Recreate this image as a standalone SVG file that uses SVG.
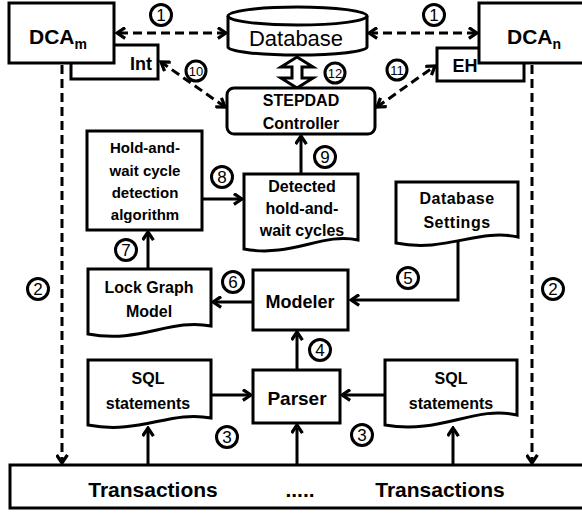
<svg xmlns="http://www.w3.org/2000/svg" width="582" height="514" viewBox="0 0 582 514">
<defs>
<style>
.box{fill:#fff;stroke:#000;stroke-width:3}
.ln{fill:none;stroke:#000;stroke-width:3}
.dash{fill:none;stroke:#000;stroke-width:3;stroke-dasharray:9,5}
.t{font-family:"Liberation Sans",Arial,sans-serif;font-weight:bold;fill:#000;text-anchor:middle}
.num{font-family:"Liberation Sans",Arial,sans-serif;fill:#000;text-anchor:middle;font-size:17px}
.sn{font-size:13px}
.c{fill:#fff;stroke:#000;stroke-width:3}
</style>
<marker id="ah" viewBox="0 0 12 12" markerWidth="13" markerHeight="13" refX="10" refY="6" orient="auto-start-reverse" markerUnits="userSpaceOnUse">
<path d="M2.5,1 L10,6 L2.5,11" fill="none" stroke="#000" stroke-width="3"/>
</marker>
</defs>
<rect width="582" height="514" fill="#fff"/>

<g id="connectors">
<line class="dash" x1="226" y1="33" x2="117" y2="33" marker-start="url(#ah)" marker-end="url(#ah)"/>
<line class="dash" x1="369" y1="33" x2="477" y2="33" marker-start="url(#ah)" marker-end="url(#ah)"/>
<line class="dash" x1="225" y1="107" x2="161" y2="62" marker-start="url(#ah)" marker-end="url(#ah)"/>
<line class="dash" x1="377" y1="107" x2="435" y2="66" marker-start="url(#ah)" marker-end="url(#ah)"/>
<line class="dash" x1="62" y1="65" x2="62" y2="463" marker-end="url(#ah)"/>
<line class="dash" x1="532" y1="65" x2="532" y2="463" marker-end="url(#ah)"/>
<line class="ln" x1="301" y1="174" x2="301" y2="136" marker-end="url(#ah)"/>
<line class="ln" x1="202" y1="199" x2="242" y2="199" marker-end="url(#ah)"/>
<line class="ln" x1="148" y1="269" x2="148" y2="232" marker-end="url(#ah)"/>
<line class="ln" x1="253" y1="302" x2="213" y2="302" marker-end="url(#ah)"/>
<polyline class="ln" points="458,240 458,300 351,300" marker-end="url(#ah)"/>
<line class="ln" x1="297" y1="370" x2="297" y2="332" marker-end="url(#ah)"/>
<line class="ln" x1="211" y1="395" x2="251" y2="395" marker-end="url(#ah)"/>
<line class="ln" x1="385" y1="395" x2="342" y2="395" marker-end="url(#ah)"/>
<line class="ln" x1="148" y1="465" x2="148" y2="428" marker-end="url(#ah)"/>
<line class="ln" x1="297" y1="465" x2="297" y2="425" marker-end="url(#ah)"/>
<line class="ln" x1="453" y1="465" x2="453" y2="428" marker-end="url(#ah)"/>
<polygon points="297,57 313,67 302,67 302,78 313,78 297,88 281,78 292,78 292,67 281,67" fill="#fff" stroke="#000" stroke-width="3" stroke-linejoin="miter"/>
</g>

<g id="int"><rect class="box" x="71" y="45" width="87" height="34"/><text class="t" x="141" y="70" font-size="18">Int</text></g>
<g id="dcam"><rect class="box" x="9" y="3" width="105" height="60"/><text class="t" x="58" y="44" font-size="21">DCA<tspan font-size="14" dy="5">m</tspan></text></g>
<g id="eh"><rect class="box" x="437" y="48" width="87" height="33"/><text class="t" x="465" y="72" font-size="18">EH</text></g>
<g id="dcan"><rect class="box" x="479" y="3" width="120" height="60"/><text class="t" x="534" y="44" font-size="21">DCA<tspan font-size="14" dy="5">n</tspan></text></g>

<g id="database">
<path class="box" d="M228,16 A69.5,9 0 0 1 367,16 V47 A69.5,8 0 0 1 228,47 Z"/>
<path class="ln" d="M228,16 A69.5,9 0 0 0 367,16"/>
<text x="296" y="46" font-family="Liberation Sans,Arial,sans-serif" font-size="22" text-anchor="middle">Database</text>
</g>

<g id="controller"><rect class="box" x="227" y="88" width="148" height="46" rx="7"/>
<text class="t" x="301" y="106" font-size="16">STEPDAD</text><text class="t" x="301" y="129" font-size="16">Controller</text></g>

<g id="hold"><rect class="box" x="87" y="131" width="115" height="99"/>
<text class="t" x="145" y="153" font-size="15">Hold-and-</text>
<text class="t" x="145" y="176" font-size="15">wait cycle</text>
<text class="t" x="145" y="198" font-size="15">detection</text>
<text class="t" x="145" y="220" font-size="15">algorithm</text></g>

<g id="detected"><path class="box" d="M244,174 H358 V240 C322,232 292,258 244,249 Z"/>
<text class="t" x="302" y="192" font-size="16">Detected</text>
<text class="t" x="302" y="214" font-size="16">hold-and-</text>
<text class="t" x="302" y="236" font-size="16">wait cycles</text></g>

<g id="settings"><path class="box" d="M396,182 H518 V237 C478,228 446,253 396,243 Z"/>
<text class="t" x="457" y="204" font-size="16" letter-spacing="0.5">Database</text>
<text class="t" x="457" y="228" font-size="16" letter-spacing="0.5">Settings</text></g>

<g id="modeler"><rect class="box" x="253" y="270" width="95" height="60"/><text class="t" x="300" y="308" font-size="18">Modeler</text></g>

<g id="lockgraph"><path class="box" d="M88,269 H211 V326 C170,318 140,344 88,334 Z"/>
<text class="t" x="149" y="293" font-size="16">Lock Graph</text>
<text class="t" x="149" y="317" font-size="16">Model</text></g>

<g id="parser"><rect class="box" x="253" y="370" width="87" height="53"/><text class="t" x="297" y="405" font-size="19">Parser</text></g>

<g id="sqlleft"><path class="box" d="M88,360 H211 V418 C170,410 140,435 88,425 Z"/>
<text class="t" x="148" y="384" font-size="16">SQL</text>
<text class="t" x="148" y="409" font-size="16">statements</text></g>

<g id="sqlright"><path class="box" d="M385,360 H517 V415 C475,405 440,435 385,425 Z"/>
<text class="t" x="451" y="384" font-size="16">SQL</text>
<text class="t" x="451" y="409" font-size="16">statements</text></g>

<g id="transactions"><rect class="box" x="10" y="465" width="600" height="43"/>
<text class="t" x="153" y="497" font-size="21">Transactions</text>
<text class="t" x="300" y="497" font-size="21">.....</text>
<text class="t" x="440" y="497" font-size="21">Transactions</text></g>

<g id="labels">
<circle class="c" cx="161" cy="15" r="10.5"/><text class="num" x="161" y="21">1</text>
<circle class="c" cx="434" cy="15" r="10.5"/><text class="num" x="434" y="21">1</text>
<circle class="c" cx="38" cy="289" r="10.5"/><text class="num" x="38" y="295">2</text>
<circle class="c" cx="553" cy="289" r="10.5"/><text class="num" x="553" y="295">2</text>
<circle class="c" cx="227" cy="437" r="10.5"/><text class="num" x="227" y="443">3</text>
<circle class="c" cx="362" cy="435" r="10.5"/><text class="num" x="362" y="441">3</text>
<circle class="c" cx="320" cy="350" r="10.5"/><text class="num" x="320" y="356">4</text>
<circle class="c" cx="408" cy="278" r="10.5"/><text class="num" x="408" y="284">5</text>
<circle class="c" cx="233" cy="282" r="10.5"/><text class="num" x="233" y="288">6</text>
<circle class="c" cx="126" cy="250" r="10.5"/><text class="num" x="126" y="256">7</text>
<circle class="c" cx="222" cy="177" r="10.5"/><text class="num" x="222" y="183">8</text>
<circle class="c" cx="325" cy="157" r="10.5"/><text class="num" x="325" y="163">9</text>
<circle class="c" cx="196" cy="71" r="10"/><text class="num sn" x="196" y="75.5">10</text>
<circle class="c" cx="397" cy="70" r="10"/><text class="num sn" x="397" y="74.5">11</text>
<circle class="c" cx="335" cy="73" r="10"/><text class="num sn" x="335" y="77.5">12</text>
</g>
</svg>
